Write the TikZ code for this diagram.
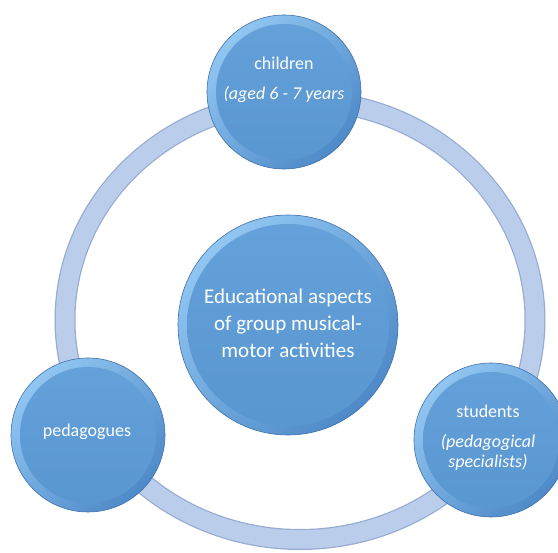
\documentclass[tikz,border=0pt]{standalone}
\usepackage{fontspec}
\setmainfont{Carlito}
\definecolor{discfill}{RGB}{91,155,215}
\definecolor{discedge}{RGB}{62,112,170}
\definecolor{disclight}{RGB}{145,198,242}
\definecolor{discdark}{RGB}{78,138,200}
\definecolor{ringfill}{RGB}{186,206,236}
\definecolor{ringedge}{RGB}{150,172,208}
\tikzset{
  disc/.style={circle, draw=discedge, line width=0.6pt, minimum size=#1*2pt, inner sep=0pt,
    top color=disclight, bottom color=discdark, shading angle=45,
    path picture={\shade[top color=discfill!94!white, bottom color=discfill!97!black]
      (path picture bounding box.center) circle[radius=#1-9];}},
  txt/.style={text=white, align=center, inner sep=0pt, font=\fontsize{18}{21}\selectfont}
}

\begin{document}
\begin{tikzpicture}[x=1pt, y=-1pt]
    \clip (0,0) rectangle (558,553);
    \fill[white] (0,0) rectangle (558,553);
    \draw[ringedge, line width=21] (300,320) ellipse [x radius=235, y radius=219.5];
    \draw[ringfill, line width=18.5] (300,320) ellipse [x radius=235, y radius=219.5];
    \node[disc=110] (Ed) at (288,325) {};
    \node[disc=77] (Ch) at (284,92) {};
    \node[disc=77] (Pe) at (88,435) {};
    \node[disc=77] (St) at (491,440) {};
    \node[txt, font=\fontsize{21}{27}\selectfont] (EdT) at (288,323)
        {Educational aspects\\of group musical-\\motor activities};
    \node[txt] (ChT) at (284,80) {children\\[9pt]\textit{(aged 6 - 7 years}};
    \node[txt] (PeT) at (87,432) {pedagogues};
    \node[txt, font=\fontsize{18}{20}\selectfont] (StT) at (488,438)
        {students\\[10pt]\textit{(pedagogical}\\\textit{specialists)}};
\end{tikzpicture}
\end{document}
